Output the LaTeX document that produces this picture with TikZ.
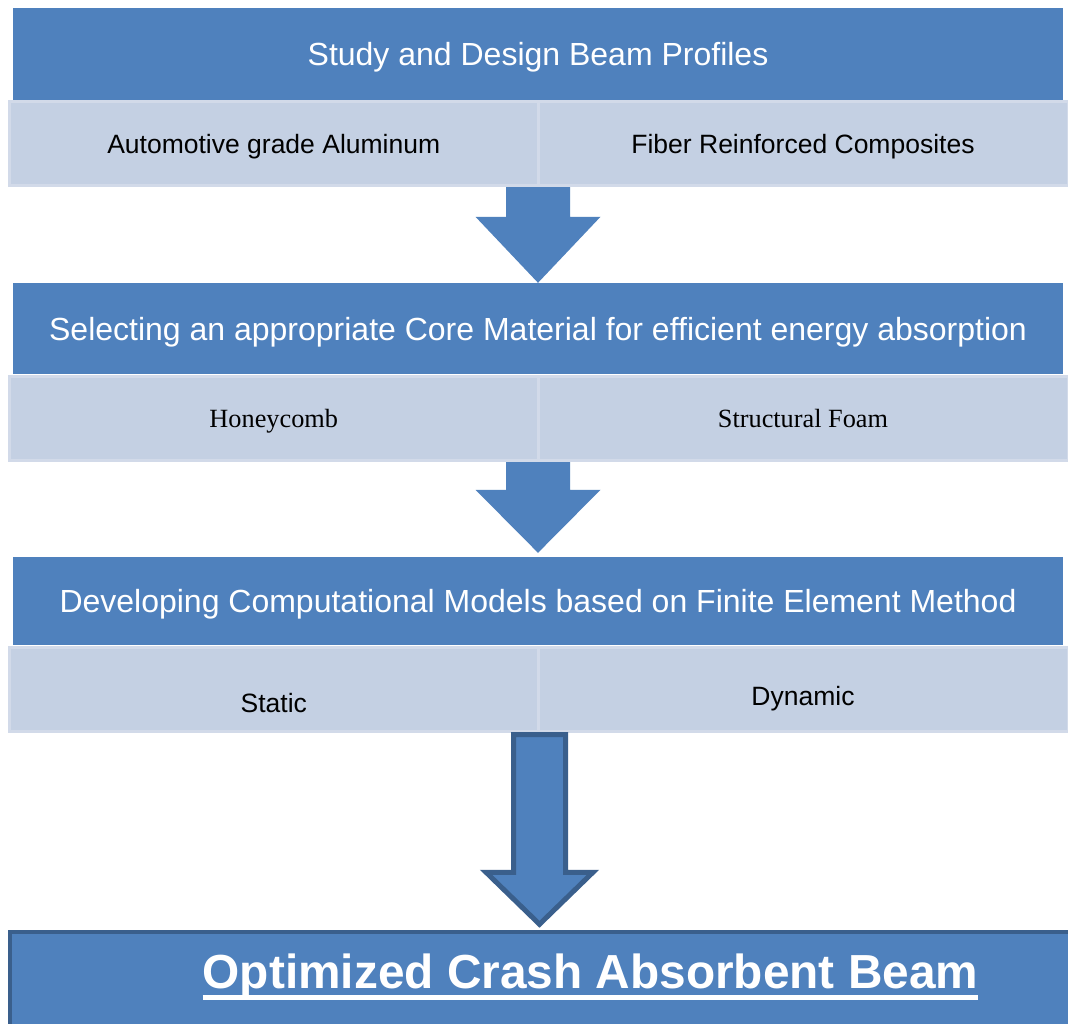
\documentclass[tikz,border=0pt]{standalone}
\usepackage{fontspec}
\setmainfont{Liberation Sans}
\newfontfamily\seriffont{Liberation Serif}
\usetikzlibrary{calc}
\definecolor{hdrblue}{HTML}{4F81BD}
\definecolor{subfill}{HTML}{C4D0E3}
\definecolor{subedge}{HTML}{D2DAE9}
\definecolor{darkedge}{HTML}{3A5F8C}
% #1 style, #2 top point, #3 tip point, #4 shaft half width, #5 head half width, #6 head length
\newcommand\blkarrow[6]{%
  \path[#1] let \p1=(#2), \p2=(#3) in
    (\x2-#4pt,\y1) -- (\x2+#4pt,\y1) -- (\x2+#4pt,\y2+#6pt) -- (\x2+#5pt,\y2+#6pt)
    -- (\x2,\y2) -- (\x2-#5pt,\y2+#6pt) -- (\x2-#4pt,\y2+#6pt) -- cycle;}
\begin{document}
\begin{tikzpicture}[x=1pt,y=-1pt,
  hdr/.style={rectangle,fill=hdrblue,draw=none,inner sep=0pt,minimum width=1050pt,
    text=white,font=\fontsize{32}{38}\selectfont,text height=23pt,text depth=0pt},
  subbox/.style={rectangle,fill=subfill,draw=subedge,line width=3pt,inner sep=0pt,
    minimum height=84.5pt,text=black,font=\fontsize{26.5}{32}\selectfont,text height=20pt,text depth=0pt},
  leftsub/.style={subbox,minimum width=528.5pt},
  rightsub/.style={subbox,minimum width=530pt},
  serif/.style={font=\seriffont\fontsize{26.3}{32}\selectfont,text height=19pt},
  flatarrow/.style={fill=hdrblue,draw=none},
  edgearrow/.style={fill=hdrblue,draw=darkedge,line width=5pt,line join=miter}]
\clip (0,0) rectangle (1068,1024);
\fill[white] (0,0) rectangle (1068,1024);

% ---- coordinates for the nodes
\coordinate (p1) at (538,54);
\coordinate (p2) at (538,328.5);
\coordinate (p3) at (538,601);

% ---- headers
\node[hdr,minimum height=92pt] (h1) at (p1) {Study and Design Beam Profiles};
\node[hdr,minimum height=91pt] (h2) at (p2) {Selecting an appropriate Core Material for efficient energy absorption};
\node[hdr,minimum height=88pt] (h3) at (p3) {Developing Computational Models based on Finite Element Method};

% ---- arrows (under the sub boxes)
\blkarrow{flatarrow}{538,186}{h2.north}{32}{62.5}{66}
\blkarrow{flatarrow}{538,461}{$(h3.north)+(0,-4)$}{32}{62.5}{63}

% ---- sub boxes
\node[leftsub]  (s1a) at (273.75,143.75) {Automotive grade Aluminum};
\node[rightsub] (s1b) at (803,143.75) {Fiber Reinforced Composites};
\node[leftsub,serif]  (s2a) at (273.75,418.25) {Honeycomb};
\node[rightsub,serif] (s2b) at (803,418.25) {Structural Foam};
\node[leftsub,text height=46pt]  (s3a) at (273.75,689.25) {Static};
\node[rightsub,text height=32pt] (s3b) at (803,689.25) {Dynamic};

% ---- final box
\node[rectangle,fill=hdrblue,draw=darkedge,line width=3.5pt,minimum width=1070pt,minimum height=108pt,inner sep=0pt]
  (finbox) at (545,986) {};
\node[anchor=base,inner sep=0pt,text=white,font=\bfseries\fontsize{47.8}{56}\selectfont]
  (fin) at (590.5,988) {Optimized Crash Absorbent Beam};
\draw[white,line width=4.5pt] ([yshift=-9.5pt]fin.base west) -- ([yshift=-9.5pt]fin.base east);

% ---- last arrow
\blkarrow{edgearrow}{$(s3a.south east)+(1.5,1.5)$}{$(finbox.north)+(-5.5,-6)$}{26}{53.5}{52}
\end{tikzpicture}
\end{document}
